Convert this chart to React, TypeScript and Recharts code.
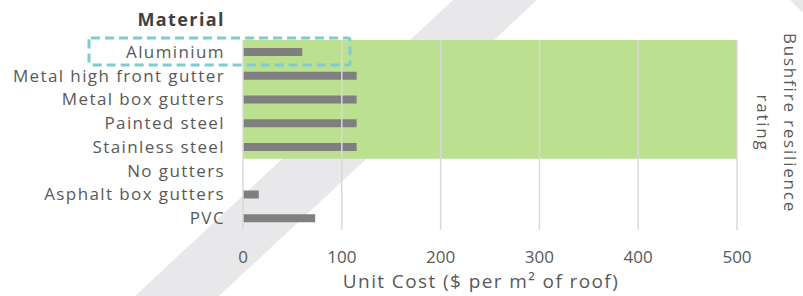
import { Bar, BarChart, Label, ReferenceArea, ReferenceLine, XAxis, YAxis } from 'recharts';

const materials = [
  'Aluminium',
  'Metal high front gutter',
  'Metal box gutters',
  'Painted steel',
  'Stainless steel',
  'No gutters',
  'Asphalt box gutters',
  'PVC',
];
const unitCost = [60, 115, 115, 115, 115, 0, 16, 73];
const highRating = [true, true, true, true, true, false, false, false];
const costTicks = [0, 100, 200, 300, 400, 500];

const data = materials.map((material, i) => ({ material, cost: unitCost[i] }));
const rated = materials.filter((_, i) => highRating[i]);

const font = '"Open Sans", sans-serif';
const textColor = '#595959';

const MaterialTitle = ({ viewBox }: any) => (
  <text
    x={viewBox.x + viewBox.width - 18}
    y={viewBox.y - 14}
    textAnchor="end"
    fontFamily={font}
    fontSize={18}
    fontWeight="bold"
    letterSpacing={1.4}
    fill="#404040"
  >
    Material
  </text>
);

export default function App() {
  return (
    <div style={{ position: 'absolute', left: 0, top: 0, width: 803, height: 296, fontFamily: font }}>
      <svg width={803} height={296} style={{ position: 'absolute', left: 0, top: 0 }}>
        <polygon points="453,0 537,0 219,296 135,296" fill="#e8e8ea" />
        <polygon points="790,0 803,0 803,13" fill="#e8e8ea" />
      </svg>
      <div style={{ position: 'absolute', left: 0, top: 0 }}>
        <BarChart
          width={803}
          height={296}
          data={data}
          layout="vertical"
          margin={{ top: 40, right: 66, bottom: 0, left: 0 }}
        >
          <XAxis
            type="number"
            domain={[0, 500]}
            ticks={costTicks}
            axisLine={false}
            tickLine={false}
            tickMargin={15}
            height={66}
            tick={{ fill: textColor, fontSize: 17, fontFamily: font }}
          >
            <Label
              value="Unit Cost ($ per m² of roof)"
              position="insideBottom"
              offset={8}
              dx={-9}
              fill={textColor}
              fontSize={19}
              letterSpacing={1.4}
              fontFamily={font}
            />
          </XAxis>
          <YAxis
            type="category"
            dataKey="material"
            width={243}
            axisLine={false}
            tickLine={false}
            tickMargin={12}
            interval={0}
            tick={{ fill: textColor, fontSize: 17, fontFamily: font, letterSpacing: 1.4 }}
          >
            <Label content={MaterialTitle} />
          </YAxis>
          <ReferenceArea
            x1={0}
            x2={500}
            y1={rated[0]}
            y2={rated[rated.length - 1]}
            fill="#bbe08f"
            fillOpacity={1}
            stroke="none"
          />
          {costTicks.map((t) => (
            <ReferenceLine key={t} x={t} stroke="#d9d9d9" strokeWidth={1.5} />
          ))}
          <Bar dataKey="cost" fill="#7f7f7f" barSize={8} isAnimationActive={false} />
        </BarChart>
      </div>
      <svg width={803} height={296} style={{ position: 'absolute', left: 0, top: 0, pointerEvents: 'none' }}>
        <rect
          x={89}
          y={38}
          width={261}
          height={27}
          rx={2}
          fill="none"
          stroke="#80cbd0"
          strokeWidth={3}
          strokeDasharray="9 5"
        />
        <g fontFamily={font} fontSize={17} fill={textColor} textAnchor="middle" letterSpacing={1.8}>
          <text transform="translate(784,123) rotate(90)">Bushfire resilience</text>
          <text transform="translate(757,123) rotate(90)">rating</text>
        </g>
      </svg>
    </div>
  );
}
